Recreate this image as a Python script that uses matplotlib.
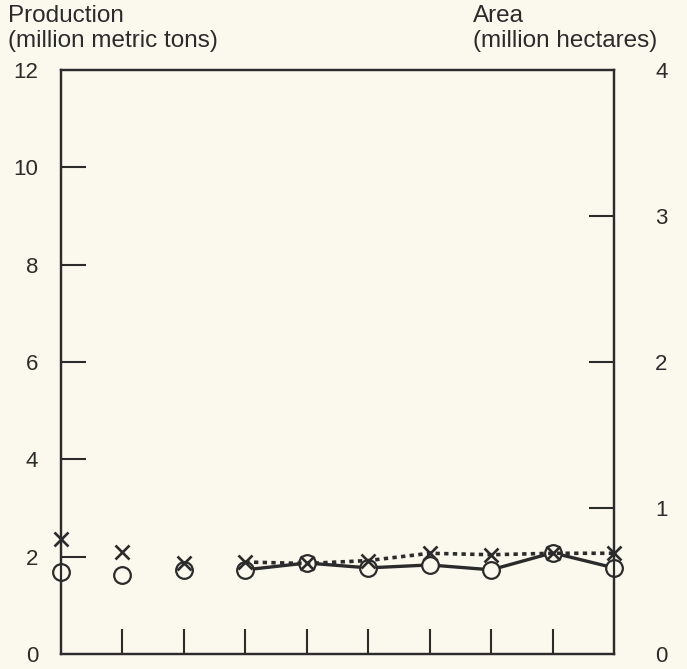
import numpy as np
import matplotlib.pyplot as plt

plt.rcParams['font.family'] = ['Liberation Sans', 'DejaVu Sans']

# values (10 years, no x labels)
years = list(range(10))
production = [1.68, 1.62, 1.73, 1.73, 1.87, 1.77, 1.83, 1.73, 2.08, 1.77]   # million metric tons
area = [0.79, 0.70, 0.62, 0.63, 0.62, 0.64, 0.69, 0.68, 0.69, 0.69]         # million hectares
line_start = 3   # lines drawn from the 4th year on

bg = '#fbf9ee'
ink = '#2b2b2b'

fig = plt.figure(figsize=(6.87, 6.69), dpi=100)
fig.patch.set_facecolor(bg)
ax = fig.add_axes([0.0888, 0.0224, 0.8050, 0.8730])
ax.set_facecolor(bg)
ax2 = ax.twinx()

x = np.array(years)
p = np.array(production)
a = np.array(area)

# production: hollow circles, solid line
ax.plot(x[line_start:], p[line_start:], color=ink, lw=2.4, zorder=2)
ax.plot(x, p, ls='none', marker='o', ms=12, mfc=bg, mec=ink, mew=1.6,
        clip_on=False, zorder=3)

# area: crosses, dotted line
ax2.plot(x[line_start:], a[line_start:], color=ink, lw=2.6,
         ls=(0, (1.2, 1.2)), zorder=2)
ax2.plot(x, a, ls='none', marker='x', ms=10, mec=ink, mew=1.9,
         clip_on=False, zorder=3)

ax.set_xlim(0, 9)
ax.set_ylim(0, 12)
ax2.set_ylim(0, 4)

ax.set_xticks(range(1, 9))
ax.set_xticklabels([])
ax.set_yticks(range(0, 13, 2))
ax2.set_yticks(range(0, 5))

ax.tick_params(axis='x', direction='in', length=18, width=1.5, color=ink)
ax.tick_params(axis='y', direction='in', length=18, width=1.5, color=ink,
               labelsize=16, labelcolor=ink, pad=16.5)
ax2.tick_params(axis='y', direction='in', length=18, width=1.5, color=ink,
                labelsize=16, labelcolor=ink, pad=29.5)

for axis in (ax, ax2):
    for s in axis.spines.values():
        s.set_linewidth(1.6)
        s.set_color(ink)

# hide corner ticks at 0 and top so they don't double the spines
for t in ax.yaxis.get_major_ticks()[::6]:
    t.tick1line.set_visible(False)
for t in ax2.yaxis.get_major_ticks()[::4]:
    t.tick2line.set_visible(False)

fig.text(0.012, 0.9671, 'Production', fontsize=17.5, color=ink, va='baseline')
fig.text(0.012, 0.9297, '(million metric tons)', fontsize=17.5, color=ink, va='baseline')
fig.text(0.6885, 0.9671, 'Area', fontsize=17.5, color=ink, va='baseline')
fig.text(0.6885, 0.9297, '(million hectares)', fontsize=17.5, color=ink, va='baseline')

fig.savefig('out.png', dpi=100, facecolor=bg)
